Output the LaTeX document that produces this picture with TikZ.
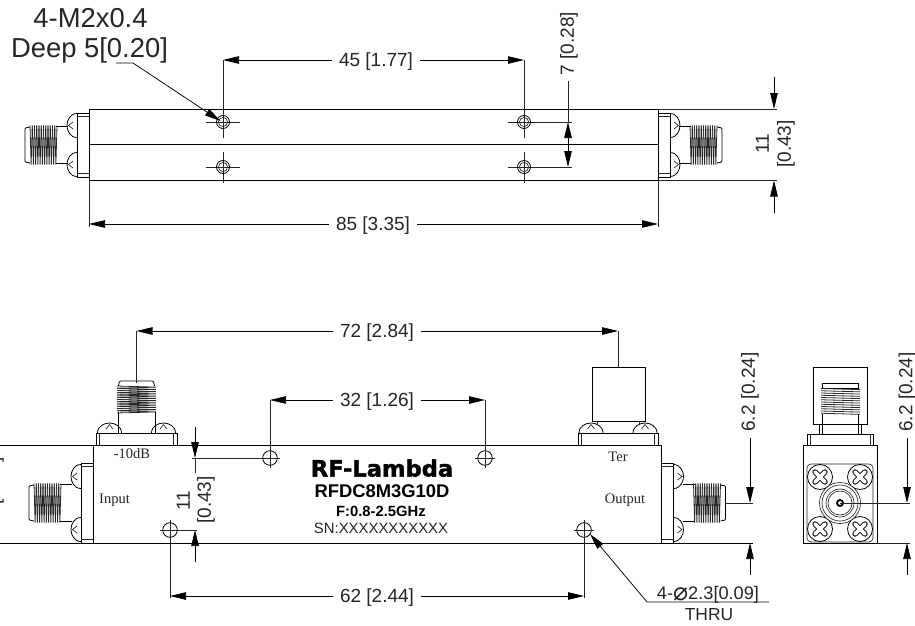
\documentclass[tikz,border=0pt]{standalone}
\usepackage{fontspec}
\setmainfont{Liberation Sans}
\newfontfamily\serifl{Liberation Serif}
\newfontfamily\dejab{DejaVu Sans}
\newfontfamily\dejah{DejaVu Sans}[BoldFeatures={FakeBold=1.6}]
\usetikzlibrary{arrows.meta}
\tikzset{
  part/.style={draw=black,line width=.8pt},
  thin part/.style={draw=black!85,line width=.65pt},
  dimline/.style={draw=black,line width=.75pt,-{Triangle[length=16pt,width=7.5pt]}},
  extline/.style={draw=black!85,line width=.7pt},
  dimtext/.style={font=\fontsize{19}{20}\selectfont,inner ysep=0pt,inner xsep=7pt,text height=13.5pt,text depth=0pt,text=black!85},
  bigtext/.style={font=\fontsize{27.4}{30}\selectfont,inner sep=0pt,text height=19.6pt,text depth=0pt,text=black!85},
  pinlabel/.style={font=\serifl\fontsize{14.5}{16}\selectfont,inner sep=0pt,text=black!85},
  plate/.style={inner sep=0pt,text depth=0pt,text=black},
  threadline/.style={draw=black!85,line width=.8pt,line join=bevel},
}
% connector base: flange + two screw domes; x runs outward from the body face
\newcommand\smabase[2]{%
  \draw[part] (0,-#1) rectangle (12,#1);
  \draw[thin part] (0,{-#1+3.5}) -- (12,{-#1+3.5}) (0,{#1-3.5}) -- (12,{#1-3.5});
  \foreach \s in {-1,1}{
    \draw[part] (12,{\s*#2-12}) .. controls (19,{\s*#2-12}) and (22,{\s*#2-5}) .. (22,{\s*#2})
       .. controls (22,{\s*#2+5}) and (19,{\s*#2+12}) .. (12,{\s*#2+12});
    \draw[thin part] (16,{\s*#2-3.5}) -- (20.5,{\s*#2}) -- (16,{\s*#2+3.5});
  }
}
% threaded barrel
\newcommand\smathread{%
  \draw[part] (21,-18.5) -- (33,-18.5) (21,18.5) -- (33,18.5);
  \foreach \i in {0,...,11}{
    \draw[threadline] ({32+\i*2.25},-19.5) -- ({33.1+\i*2.25},19.5) -- ({34.25+\i*2.25},-19.5);
  }
  \draw[part,rounded corners=1pt] (59,-18) -- (64,-17) -- (64,17) -- (59,18);
}
\newcommand\holeTop[2]{%
  \draw[part] (#1,#2) circle (6.5);
  \draw[thin part] (#1,#2) circle (4.6);
}
\begin{document}
\begin{tikzpicture}[x=1pt,y=-1pt]
\clip (0,0) rectangle (915,626);
\fill[white] (0,0) rectangle (915,626);

%% ---------- TOP VIEW ----------
\draw[part] (89,109) rectangle (658,180.5);
\draw[part] (89,144.7) -- (658,144.7);
\begin{scope}[shift={(89,145)},xscale=-1]\smabase{32}{19.5}\smathread\end{scope}
\begin{scope}[shift={(658,145)}]\smabase{32}{19.5}\smathread\end{scope}

\draw[extline] (206,122) -- (240,122) (206,167) -- (240,167)
               (508,122) -- (572,122) (508,167) -- (572,167)
               (223,152) -- (223,183) (524,152) -- (524,183)
               (223,60) -- (223,138) (524,60) -- (524,138)
               (89,180.5) -- (89,227) (658,180.5) -- (658,227)
               (658,109) -- (777,109) (658,180.5) -- (777,180.5);
\holeTop{223}{122}\holeTop{223}{167}\holeTop{524}{122}\holeTop{524}{167}

\node[dimtext] (t45) at (376,60) {45 [1.77]};
\coordinate (a45l) at (223,60); \coordinate (a45r) at (524,60);
\draw[dimline] (t45.west) -- (a45l);
\draw[dimline] (t45.east) -- (a45r);

\node[dimtext] (t85) at (373,224) {85 [3.35]};
\coordinate (a85l) at (89,224); \coordinate (a85r) at (658,224);
\draw[dimline] (t85.west) -- (a85l);
\draw[dimline] (t85.east) -- (a85r);

\node[dimtext,rotate=90,inner xsep=0pt] (t7) at (567,43.5) {7 [0.28]};
\coordinate (a7s) at (568,81); \coordinate (a7a) at (568,122);
\coordinate (a7b) at (568,167); \coordinate (a7m) at (568,144);
\draw[extline] (a7s) -- (a7a);
\draw[dimline] (a7m) -- (a7a);
\draw[dimline] (a7m) -- (a7b);

\coordinate (a11a) at (774,77); \coordinate (a11b) at (774,109);
\coordinate (a11c) at (774,213); \coordinate (a11d) at (774,180.5);
\draw[dimline] (a11a) -- (a11b);
\draw[dimline] (a11c) -- (a11d);
\node[dimtext,rotate=90,inner xsep=0pt] (t11a) at (762,144) {11};
\node[dimtext,rotate=90,inner xsep=0pt] (t11b) at (784,144) {[0.43]};

\node[bigtext] (lblA) at (90.5,18) {4-M2x0.4};
\node[bigtext] (lblB) at (89.5,48) {Deep 5[0.20]};
\coordinate (ldA) at (116,63); \coordinate (ldB) at (133,63); \coordinate (ldC) at (220.5,121);
\draw[dimline] (ldA) -- (ldB) -- (ldC);

%% ---------- FRONT VIEW ----------
\draw[part] (93,445) rectangle (661.5,543);
\draw[part] (0,445) -- (93,445) (0,543) -- (93,543);
\draw[part] (661.5,543) -- (753,543);

\begin{scope}[shift={(93,503)},xscale=-1]\smabase{40}{26.5}\smathread\end{scope}
\begin{scope}[shift={(661.5,503)}]\smabase{40}{26.5}\smathread\end{scope}
\begin{scope}[shift={(136.5,445)},rotate=90]\smabase{40.5}{27}\smathread
  \draw[part] (31,-18.5) -- (11,-18.5) (31,18.5) -- (11,18.5);\end{scope}
\begin{scope}[shift={(618,445)},rotate=90]\smabase{40}{27}
  \draw[thin part] (20,-21) -- (24,-21) (20,21) -- (24,21);\end{scope}
\draw[part] (592,367) rectangle (645,421);

% clipped label at the left edge
\node[dimtext,rotate=90,inner xsep=0pt] (t11c) at (-7,481) {[0.43]};

% holes
\coordinate (h1) at (270,458); \coordinate (h2) at (485,458);
\coordinate (h3) at (170,530); \coordinate (h4) at (584,530);
\foreach \h in {h1,h2,h3,h4}{\draw[part] (\h) circle (7.3);}
\draw[extline] (192,458) -- (280,458) (475,458) -- (495,458)
   (270,400) -- (270,468) (485,400) -- (485,468)
   (160,530) -- (197,530) (574,530) -- (594,530)
   (170,520) -- (170,598) (584,520) -- (584,598)
   (136.5,331) -- (136.5,383) (618,331) -- (618,367);

\node[dimtext] (t72) at (377,331) {72 [2.84]};
\coordinate (a72l) at (136.5,331); \coordinate (a72r) at (618,331);
\draw[dimline] (t72.west) -- (a72l);
\draw[dimline] (t72.east) -- (a72r);

\node[dimtext] (t32) at (377,400) {32 [1.26]};
\coordinate (a32l) at (270,400); \coordinate (a32r) at (485,400);
\draw[dimline] (t32.west) -- (a32l);
\draw[dimline] (t32.east) -- (a32r);

\node[dimtext] (t62) at (377,596) {62 [2.44]};
\coordinate (a62l) at (170,596); \coordinate (a62r) at (584,596);
\draw[dimline] (t62.west) -- (a62l);
\draw[dimline] (t62.east) -- (a62r);

\coordinate (b1) at (195,427); \coordinate (b2) at (195,458);
\coordinate (b3) at (195,562); \coordinate (b4) at (195,530);
\coordinate (b5) at (195,473);
\draw[dimline] (b1) -- (b2);
\draw[extline] (b2) -- (b5);
\draw[dimline] (b3) -- (b4);
\node[dimtext,rotate=90,inner xsep=0pt] (t11d) at (183,501) {11};
\node[dimtext,rotate=90,inner xsep=0pt] (t11e) at (204,500) {[0.43]};

\node[pinlabel] (p10) at (132,453.5) {-10dB};
\node[pinlabel] (pin) at (114.5,500) {Input};
\node[pinlabel] (pte) at (618,457) {Ter};
\node[pinlabel] (pou) at (625,500) {Output};

\node[plate,font=\dejah\bfseries\fontsize{22.6}{24}\selectfont] (pl1) at (382,468) {RF-Lambda};
\node[plate,font=\bfseries\fontsize{18.4}{20}\selectfont] (pl2) at (382,491) {RFDC8M3G10D};
\node[plate,font=\bfseries\fontsize{14.8}{16}\selectfont] (pl3) at (381,511) {F:0.8-2.5GHz};
\node[plate,font=\fontsize{14.9}{16}\selectfont,text=black!85] (pl4) at (381,528) {SN:XXXXXXXXXXX};

% 6.2 dim of front view
\draw[extline] (725,503) -- (753,503);
\node[dimtext,rotate=90,inner xsep=0pt] (t62a) at (748,392) {6.2 [0.24]};
\coordinate (c1) at (750,438); \coordinate (c2) at (750,503);
\coordinate (c3) at (750,575); \coordinate (c4) at (750,543);
\draw[dimline] (c1) -- (c2);
\draw[dimline] (c3) -- (c4);

% thru label
\coordinate (th1) at (769,602); \coordinate (th2) at (647,602); \coordinate (th3) at (590,534);
\draw[dimline] (th1) -- (th2) -- (th3);
\node[inner sep=0pt,font=\fontsize{18.2}{19}\selectfont,text=black!85,text height=13pt,text depth=0pt] (th) at (708,593) {4-\raisebox{-1pt}{\dejab\fontsize{25}{26}\selectfont ⌀}2.3[0.09]};
\node[inner sep=0pt,font=\fontsize{17.4}{19}\selectfont,text=black!85,text height=12.4pt,text depth=0pt] (thr) at (709,614) {THRU};

%% ---------- END VIEW ----------
\draw[part] (803,445) rectangle (877,543);
\draw[part] (807,434) rectangle (873,445);
\draw[thin part] (810,434) -- (810,445) (870,434) -- (870,445);
\draw[part] (813,367) rectangle (867,424);
\draw[part] (822,383) rectangle (858,388);
\draw[part] (822,414) -- (822,434) (858,414) -- (858,434) (819,424) -- (819,434) (861,424) -- (861,434);
\foreach \i in {0,...,11}{
  \draw[threadline] (821,{388.5+\i*2.25}) -- (860,{389.6+\i*2.25});
}
\draw[thin part,rounded corners=4pt] (807,464) rectangle (873,542);
\foreach \cx/\cy in {820/477,860/477,820/529,860/529}{
  \draw[part,fill=white] (\cx,\cy) circle (12.5);
  \draw[black,line width=5.4pt,line cap=round] (\cx-5,\cy-5) -- (\cx+5,\cy+5) (\cx-5,\cy+5) -- (\cx+5,\cy-5);
  \draw[white,line width=3.8pt,line cap=round] (\cx-5,\cy-5) -- (\cx+5,\cy+5) (\cx-5,\cy+5) -- (\cx+5,\cy-5);
}
\foreach \r in {20.5,18,14,12}{\draw[thin part,fill=white] (840,503) circle (\r);}
\draw[part,line width=1.8pt] (840,503) circle (3);
\draw[extline] (840,503) -- (910,503) (877,543) -- (910,543);

\node[dimtext,rotate=90,inner xsep=0pt] (t62b) at (905.5,392) {6.2 [0.24]};
\coordinate (d1) at (907,438); \coordinate (d2) at (907,503);
\coordinate (d3) at (907,575); \coordinate (d4) at (907,543);
\draw[dimline] (d1) -- (d2);
\draw[dimline] (d3) -- (d4);
\end{tikzpicture}
\end{document}
